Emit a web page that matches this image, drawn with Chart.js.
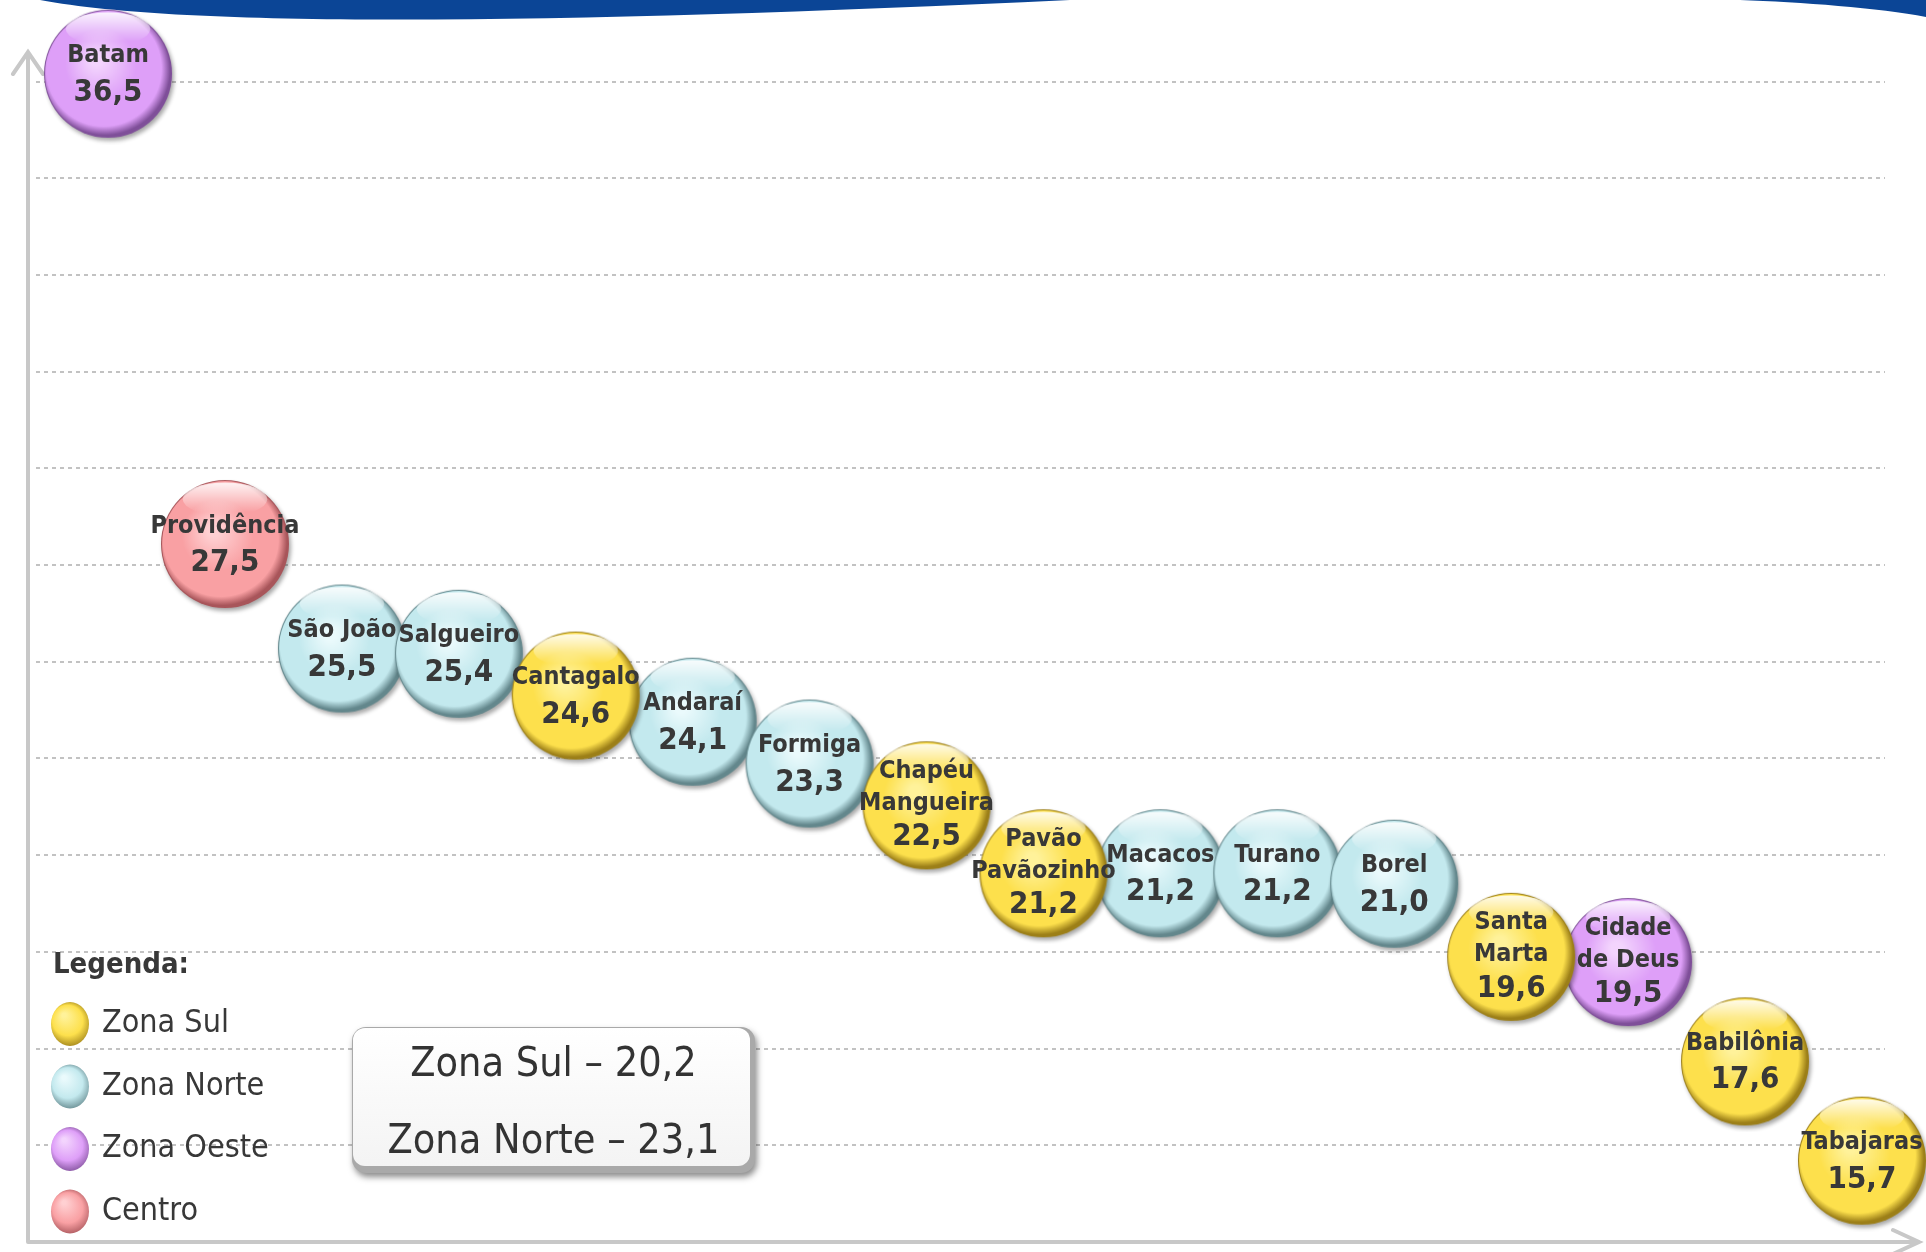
<!DOCTYPE html>
<html>
<head>
<meta charset="utf-8">
<script src="https://cdn.jsdelivr.net/npm/chart.js@4.4.1/dist/chart.umd.min.js"></script>
<style>
  html, body { margin: 0; padding: 0; background: #fff; overflow: hidden; }
  canvas { display: block; }
</style>
</head>
<body>
<canvas id="grafico" width="1926" height="1252"></canvas>
<script>
// dados
const favelas = ['Batam', 'Providência', 'São João', 'Salgueiro', 'Cantagalo', 'Andaraí', 'Formiga',
  ['Chapéu', 'Mangueira'], ['Pavão', 'Pavãozinho'], 'Macacos', 'Turano', 'Borel',
  ['Santa', 'Marta'], ['Cidade', 'de Deus'], 'Babilônia', 'Tabajaras'];
const valores = [36.5, 27.5, 25.5, 25.4, 24.6, 24.1, 23.3, 22.5, 21.2, 21.2, 21.2, 21.0, 19.6, 19.5, 17.6, 15.7];
const zonaDeCada = ['Zona Oeste', 'Centro', 'Zona Norte', 'Zona Norte', 'Zona Sul', 'Zona Norte', 'Zona Norte',
  'Zona Sul', 'Zona Sul', 'Zona Norte', 'Zona Norte', 'Zona Norte', 'Zona Sul', 'Zona Oeste', 'Zona Sul', 'Zona Sul'];
const zonas = ['Zona Sul', 'Zona Norte', 'Zona Oeste', 'Centro'];
const mediasNomes = ['Zona Sul', 'Zona Norte'];
const mediasValores = [20.2, 23.1];

const cores = {
  'Zona Sul':   { base: '#fde04c', clara: '#fff29a', escura: '#9c7f18' },
  'Zona Norte': { base: '#c3e9ee', clara: '#eafafc', escura: '#63878c' },
  'Zona Oeste': { base: '#de9ff8', clara: '#f3d4fd', escura: '#7f4f99' },
  'Centro':     { base: '#f9a0a3', clara: '#ffd0d2', escura: '#a8555a' }
};
const corTexto = '#383838';
const fonte = '"DejaVu Sans Condensed", "DejaVu Sans", sans-serif';

function fmt(v) {
  return v.toFixed(1).replace('.', ',');
}

// bolinha "3D" usada como pointStyle
function esfera(c) {
  const r = 64, pad = 7;
  const cv = document.createElement('canvas');
  cv.width = cv.height = 2 * (r + pad);
  const g = cv.getContext('2d');
  const cx = r + pad, cy = r + pad;

  g.save();
  g.shadowColor = 'rgba(0,0,0,0.35)';
  g.shadowBlur = 4;
  g.shadowOffsetX = 2;
  g.shadowOffsetY = 3;
  g.beginPath();
  g.arc(cx, cy, r, 0, Math.PI * 2);
  g.fillStyle = c.escura;
  g.fill();
  g.restore();

  const grad = g.createRadialGradient(cx - r * 0.18, cy - r * 0.22, r * 0.1, cx - r * 0.05, cy - r * 0.06, r * 1.02);
  grad.addColorStop(0, c.clara);
  grad.addColorStop(0.5, c.base);
  grad.addColorStop(0.87, c.base);
  grad.addColorStop(1, c.escura);
  g.beginPath();
  g.arc(cx, cy, r - 1, 0, Math.PI * 2);
  g.fillStyle = grad;
  g.fill();

  // brilho em cima
  const hg = g.createLinearGradient(0, cy - r * 0.97, 0, cy - r * 0.5);
  hg.addColorStop(0, 'rgba(255,255,255,0.9)');
  hg.addColorStop(1, 'rgba(255,255,255,0)');
  g.beginPath();
  g.ellipse(cx, cy - r * 0.7, r * 0.66, r * 0.26, 0, 0, Math.PI * 2);
  g.fillStyle = hg;
  g.fill();
  return cv;
}

const datasets = zonas.map(function(z) {
  const pontos = [];
  valores.forEach(function(v, i) {
    if (zonaDeCada[i] === z) pontos.push({ x: i + 1, y: v, nome: favelas[i] });
  });
  return {
    label: z,
    data: pontos,
    pointStyle: esfera(cores[z]),
    radius: 1,   // a imagem define o tamanho; raio pequeno evita padding extra
    clip: false
  };
});

// faixa azul e eixos com setas
const fundo = {
  id: 'fundo',
  beforeDraw(chart) {
    const c = chart.ctx;
    c.save();
    c.fillStyle = '#0b4596';
    c.beginPath();
    c.moveTo(40, 0);
    c.bezierCurveTo(200, 30, 600, 22, 1070, 0);
    c.closePath();
    c.fill();
    c.beginPath();
    c.moveTo(1740, 0);
    c.bezierCurveTo(1800, 2, 1880, 8, 1926, 17);
    c.lineTo(1926, 0);
    c.closePath();
    c.fill();
    c.restore();
  },
  beforeDatasetsDraw(chart) {
    const a = chart.chartArea;
    const c = chart.ctx;
    const x0 = a.left - 8, y0 = a.bottom;
    c.save();
    c.strokeStyle = '#c8c8c8';
    c.lineWidth = 4;
    c.lineCap = 'round';
    c.beginPath();
    c.moveTo(x0, y0);
    c.lineTo(x0, a.top);
    c.moveTo(x0 - 15, a.top + 22);
    c.lineTo(x0, a.top);
    c.lineTo(x0 + 15, a.top + 22);
    c.moveTo(x0, y0);
    c.lineTo(a.right + 34, y0);
    c.moveTo(a.right + 8, y0 - 12);
    c.lineTo(a.right + 34, y0);
    c.lineTo(a.right + 8, y0 + 12);
    c.stroke();
    c.restore();
  }
};

// nome e valor dentro de cada bolinha
const rotulos = {
  id: 'rotulos',
  afterDatasetsDraw(chart) {
    const c = chart.ctx;
    c.save();
    c.fillStyle = corTexto;
    c.textAlign = 'center';
    c.textBaseline = 'middle';
    chart.data.datasets.forEach(function(ds, di) {
      chart.getDatasetMeta(di).data.forEach(function(el, i) {
        const p = ds.data[i];
        const linhas = Array.isArray(p.nome) ? p.nome : [p.nome];
        c.font = 'bold 25px ' + fonte;
        if (linhas.length === 1) {
          c.fillText(linhas[0], el.x, el.y - 18);
          c.font = 'bold 31px ' + fonte;
          c.fillText(fmt(p.y), el.x, el.y + 19);
        } else {
          c.fillText(linhas[0], el.x, el.y - 34);
          c.fillText(linhas[1], el.x, el.y - 2);
          c.font = 'bold 31px ' + fonte;
          c.fillText(fmt(p.y), el.x, el.y + 32);
        }
      });
    });
    c.restore();
  }
};

// legenda e caixa de medias
const legenda = {
  id: 'legenda',
  afterDraw(chart) {
    const c = chart.ctx;
    c.save();
    c.fillStyle = corTexto;
    c.textBaseline = 'middle';
    c.textAlign = 'left';
    c.font = 'bold 29px ' + fonte;
    c.fillText('Legenda:', 53, 965);

    zonas.forEach(function(z, i) {
      const y = 1024 + i * 62.5;
      const cor = cores[z];
      const g = c.createRadialGradient(64, y - 9, 2, 70, y, 24);
      g.addColorStop(0, cor.clara);
      g.addColorStop(0.6, cor.base);
      g.addColorStop(1, cor.escura);
      c.beginPath();
      c.ellipse(70, y, 19, 22, 0, 0, Math.PI * 2);
      c.fillStyle = g;
      c.fill();
      c.fillStyle = corTexto;
      c.font = '32px ' + fonte;
      c.fillText(z, 102, y);
    });

    // caixa
    const bx = 352, by = 1027, bw = 403, bh = 146;
    c.save();
    c.shadowColor = 'rgba(0,0,0,0.45)';
    c.shadowBlur = 6;
    c.shadowOffsetX = 2;
    c.shadowOffsetY = 4;
    c.beginPath();
    c.roundRect(bx, by, bw, bh, 14);
    c.fillStyle = '#a9a9a9';
    c.fill();
    c.restore();
    const gb = c.createLinearGradient(0, by, 0, by + bh);
    gb.addColorStop(0, '#ffffff');
    gb.addColorStop(1, '#f3f3f3');
    c.beginPath();
    c.roundRect(bx + 1, by + 1, bw - 6, bh - 8, 12);
    c.fillStyle = gb;
    c.fill();
    c.fillStyle = '#333';
    c.textAlign = 'center';
    c.font = '41px ' + fonte;
    mediasNomes.forEach(function(n, i) {
      c.fillText(n + ' – ' + fmt(mediasValores[i]), bx + bw / 2, by + 38 + i * 77);
    });
    c.restore();
  }
};

const config = {
  type: 'bubble',
  data: { datasets: datasets },
  options: {
    responsive: false,
    animation: false,
    events: [],
    layout: { padding: { left: 36, top: 52, right: 41, bottom: 10 } },
    scales: {
      x: { type: 'linear', min: 0.384, max: 16.197, display: false },
      y: { type: 'linear', min: 14.144, max: 36.915, display: false },
      grade: {
        type: 'linear',
        position: 'left',
        min: 0,
        max: 12.306,
        ticks: { display: false, stepSize: 1 },
        border: { display: false, dash: [4, 4] },
        grid: {
          drawTicks: false,
          lineWidth: 2,
          color: function(ctx) {
            const v = ctx.tick.value;
            return (Number.isInteger(v) && v > 0) ? '#c2c2c2' : 'rgba(0,0,0,0)';
          }
        }
      }
    },
    plugins: {
      legend: { display: false },
      tooltip: { enabled: false }
    }
  },
  plugins: [fundo, rotulos, legenda]
};

const grafico = new Chart(document.getElementById('grafico').getContext('2d'), config);
</script>
</body>
</html>
